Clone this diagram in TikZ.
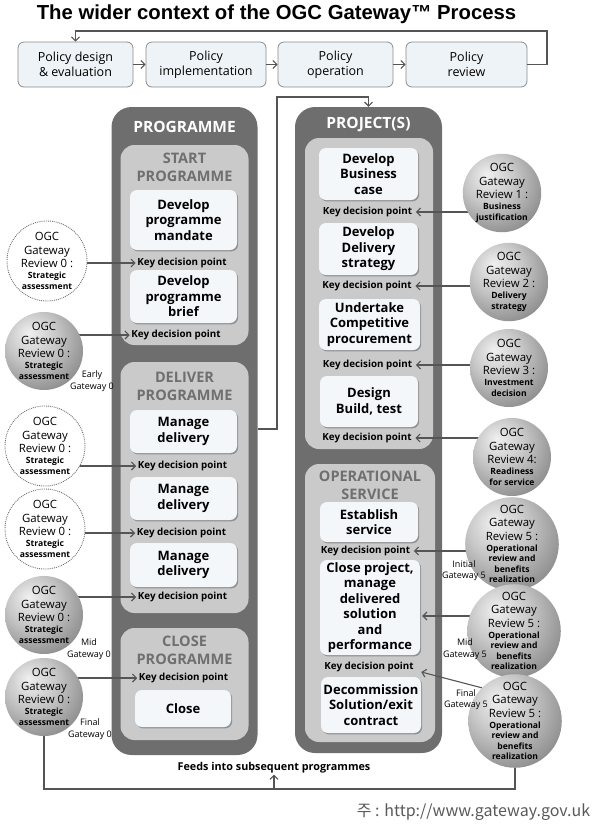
\documentclass[tikz,border=0pt]{standalone}
\usepackage{fontspec}
\setmainfont{Open Sans}
\newfontfamily\titlefont{Liberation Sans}
\newfontfamily\krfont{Noto Sans CJK KR}
\usetikzlibrary{arrows.meta,arrows}
\usetikzlibrary{positioning}
\usetikzlibrary{shadows}

\definecolor{darkcol}{HTML}{6E6E6E}
\definecolor{lightcol}{HTML}{CACACA}
\definecolor{boxfill}{HTML}{F4F7F9}
\definecolor{polfill}{HTML}{EEF3F7}
\definecolor{linecol}{HTML}{555555}
\definecolor{headcol}{HTML}{6F6F6F}

\pgfdeclareradialshading{sphere}{\pgfpoint{-10bp}{12bp}}{color(0bp)=(black!6); color(16bp)=(black!22); color(34bp)=(black!45); color(50bp)=(black!62); color(70bp)=(black!66)}

\newcommand{\polfont}{\fontsize{12.5}{14.5}\selectfont}
\newcommand{\taskfont}{\fontsize{13}{15.5}\selectfont\bfseries}
\newcommand{\kdpfont}{\fontsize{9.8}{12}\selectfont\bfseries}
\newcommand{\ballfont}{\fontsize{11.4}{13.5}\selectfont}
\newcommand{\smalltxt}[1]{{\fontsize{8.6}{10}\selectfont\bfseries #1}}
\newcommand{\headfont}{\fontsize{15.5}{18}\selectfont\bfseries}
\newcommand{\phasefont}{\fontsize{14.5}{18}\selectfont\bfseries}
\newcommand{\gwfont}{\fontsize{9}{11.5}\selectfont}

\begin{document}
\begin{tikzpicture}[x=1pt,y=-1pt,
    >={Straight Barb[length=4pt,width=8pt]},
    arr/.style={->,draw=linecol,line width=1.1pt},
    line/.style={draw=linecol,line width=1.1pt},
    pol/.style={draw=black!45,fill=polfill,rounded corners=6pt,minimum height=45pt,
        inner sep=0pt,align=center,font=\polfont,line width=.8pt},
    col/.style={fill=darkcol,rounded corners=20pt,minimum width=146pt,inner sep=0pt},
    phase/.style={fill=lightcol,rounded corners=14pt,minimum width=128pt,inner sep=0pt},
    task/.style={fill=boxfill,rounded corners=7pt,minimum width=107pt,inner sep=0pt,
        align=center,font=\taskfont,
        drop shadow={shadow xshift=1.2pt,shadow yshift=-1.4pt,opacity=.45,fill=black!70}},
    kdp/.style={font=\kdpfont,inner sep=1.5pt},
    head/.style={font=\headfont,text=white},
    phasetitle/.style={font=\phasefont,text=headcol,align=center},
    ball/.style={circle,minimum size=78pt,inner sep=0pt,shading=sphere,align=center,font=\ballfont},
    dotball/.style={circle,minimum size=80pt,inner sep=0pt,fill=white,draw=black!55,
        densely dotted,line width=.9pt,align=center,font=\ballfont},
    gw/.style={font=\gwfont,align=center,inner sep=0pt}]

\useasboundingbox (0,0) rectangle (600,828);

% title
\node[font=\titlefont\fontsize{20.3}{22}\selectfont\bfseries] (T) at (276.5,14) {The wider context of the OGC Gateway™ Process};

% policy cycle
\node[pol,minimum width=115pt] (P1) at (75.5,64.5) {Policy design\\\& evaluation};
\node[pol,minimum width=120pt] (P2) at (206,64.5) {Policy\\implementation};
\node[pol,minimum width=115pt] (P3) at (335.5,64.5) {Policy\\operation};
\node[pol,minimum width=121pt] (P4) at (466.5,64.5) {Policy\\review};

\begin{scope}[arr]
    \path [->] (P1) edge (P2);
    \path [->] (P2) edge (P3);
    \path [->] (P3) edge (P4);
\end{scope}
\coordinate (TR) at (547,31);
\draw[arr] (P4.east) -| (TR) -| (P1.north);

% the two columns
\node[col,minimum height=648pt] (PG) at (184.5,431) {};
\node[col,minimum width=147pt,minimum height=646pt] (PJ) at (368.5,430) {};
\node[head] (PGh) at (184.5,127) {PROGRAMME};
\node[head] (PJh) at (368.5,125) {PROJECT(S)};

\coordinate (PP) at (277,429);
\coordinate (PQ) at (277,97);
\draw[arr] (PG.east |- PP) -- (PP) -- (PQ) -| (PJ.north);

% phases
\node[phase,minimum height=200pt] (S) at (184.5,245) {};
\node[phase,minimum height=251pt] (D) at (184.5,487.5) {};
\node[phase,minimum height=112pt] (C) at (184.5,684) {};
\node[phase,minimum height=311pt] (PR) at (369,293.5) {};
\node[phase,minimum width=130pt,minimum height=278pt] (OS) at (370,603) {};

\node[phasetitle] (St) at (184.5,167) {START\\PROGRAMME};
\node[phasetitle] (Dt) at (184.5,386) {DELIVER\\PROGRAMME};
\node[phasetitle] (Ct) at (184.5,650.5) {CLOSE\\PROGRAMME};
\node[phasetitle] (OSt) at (370,485.5) {OPERATIONAL\\SERVICE};

% tasks
\node[task,minimum height=60pt] (T1) at (183.5,220) {Develop\\programme\\mandate};
\node[task,minimum height=53pt] (T2) at (183.5,296.5) {Develop\\programme\\brief};
\node[task,minimum height=43pt] (T3) at (183.5,431.5) {Manage\\delivery};
\node[task,minimum height=43pt] (T4) at (183.5,498.5) {Manage\\delivery};
\node[task,minimum height=44pt] (T5) at (183.5,565) {Manage\\delivery};
\node[task,minimum width=96pt,minimum height=37pt] (T6) at (183,708.5) {Close};

\node[task,minimum width=99pt,minimum height=52pt] (U1) at (368.5,174) {Develop\\Business\\case};
\node[task,minimum width=99pt,minimum height=52pt] (U2) at (368.5,249) {Develop\\Delivery\\strategy};
\node[task,minimum width=101pt,minimum height=51pt] (U3) at (369.5,324.5) {Undertake\\Competitive\\procurement};
\node[task,minimum width=98pt,minimum height=51pt] (U4) at (369,401.5) {Design\\Build, test};
\node[task,minimum width=98pt,minimum height=40pt] (U5) at (369,522) {Establish\\service};
\node[task,minimum width=100pt,minimum height=95pt] (U6) at (370,607.5) {Close project,\\manage\\delivered\\solution\\and\\performance};
\node[task,minimum width=100pt,minimum height=56pt] (U7) at (371,705) {Decommission\\Solution/exit\\contract};

% key decision points
\node[kdp] (K1) at (182,263) {Key decision point};
\node[kdp] (K2) at (176,335) {Key decision point};
\node[kdp] (K3) at (182.5,466) {Key decision point};
\node[kdp] (K4) at (181.5,533) {Key decision point};
\node[kdp] (K5) at (182.5,597) {Key decision point};
\node[kdp] (K6) at (183.5,678) {Key decision point};

\node[kdp] (J1) at (367.5,212) {Key decision point};
\node[kdp] (J2) at (367,286) {Key decision point};
\node[kdp] (J3) at (367.5,365) {Key decision point};
\node[kdp] (J4) at (367,438) {Key decision point};
\node[kdp] (J5) at (365.5,551) {Key decision point};
\node[kdp] (J6) at (369,667) {Key decision point};

% gateway reviews
\coordinate (L1c) at (47,261);
\coordinate (L2c) at (44,351);
\coordinate (L3c) at (45,446);
\coordinate (L4c) at (45,529);
\coordinate (L5c) at (44,615);
\coordinate (L6c) at (44,697);
\coordinate (R1c) at (502,193);
\coordinate (R2c) at (509,282);
\coordinate (R3c) at (509,368);
\coordinate (R4c) at (512,457);
\coordinate (R5c) at (512,544);
\coordinate (R6c) at (514,631);
\coordinate (R7c) at (515,721);
\coordinate (U6in) at ([yshift=-8.5pt]U6.east);

\draw[arr] (L1c |- K1) -- (K1.west);
\draw[arr] (L2c |- K2) -- (K2.west);
\draw[arr] (L3c |- K3) -- (K3.west);
\draw[arr] (L4c |- K4) -- (K4.west);
\draw[arr] (L5c |- K5) -- (K5.west);
\draw[arr] (L6c |- K6) -- (K6.west);
\draw[arr,shorten >=2pt] (R1c |- J1) -- (J1.east);
\draw[arr,shorten >=2pt] (R2c |- J2) -- (J2.east);
\draw[arr,shorten >=2pt] (R3c |- J3) -- (J3.east);
\draw[arr,shorten >=2pt] (R4c |- J4) -- (J4.east);
\draw[arr,shorten >=2pt] (R5c |- J5) -- (J5.east);
\draw[arr,shorten >=2pt] (R6c |- U6in) -- (U6in);

\node[dotball] (L1) at (L1c) {OGC\\Gateway\\Review 0 :\\[-2.5pt]\smalltxt{Strategic}\\[-3pt]\smalltxt{assessment}};
\node[ball] (L2) at (L2c) {OGC\\Gateway\\Review 0 :\\[-2.5pt]\smalltxt{Strategic}\\[-3pt]\smalltxt{assessment}};
\node[dotball] (L3) at (L3c) {OGC\\Gateway\\Review 0 :\\[-2.5pt]\smalltxt{Strategic}\\[-3pt]\smalltxt{assessment}};
\node[dotball] (L4) at (L4c) {OGC\\Gateway\\Review 0 :\\[-2.5pt]\smalltxt{Strategic}\\[-3pt]\smalltxt{assessment}};
\node[ball] (L5) at (L5c) {OGC\\Gateway\\Review 0 :\\[-2.5pt]\smalltxt{Strategic}\\[-3pt]\smalltxt{assessment}};
\node[ball] (L6) at (L6c) {OGC\\Gateway\\Review 0 :\\[-2.5pt]\smalltxt{Strategic}\\[-3pt]\smalltxt{assessment}};

\node[ball] (R1) at (R1c) {OGC\\Gateway\\Review 1 :\\[-2.5pt]\smalltxt{Business}\\[-3pt]\smalltxt{justification}};
\node[ball] (R2) at (R2c) {OGC\\Gateway\\Review 2 :\\[-2.5pt]\smalltxt{Delivery}\\[-3pt]\smalltxt{strategy}};
\node[ball] (R3) at (R3c) {OGC\\Gateway\\Review 3 :\\[-2.5pt]\smalltxt{Investment}\\[-3pt]\smalltxt{decision}};
\node[ball] (R4) at (R4c) {OGC\\Gateway\\Review 4:\\[-2.5pt]\smalltxt{Readiness}\\[-3pt]\smalltxt{for service}};
\node[ball] (R5) at (R5c) {OGC\\Gateway\\Review 5 :\\[-2.5pt]\smalltxt{Operational}\\[-3pt]\smalltxt{review and}\\[-3pt]\smalltxt{benefits}\\[-3pt]\smalltxt{realization}};
\node[ball] (R6) at (R6c) {OGC\\Gateway\\Review 5 :\\[-2.5pt]\smalltxt{Operational}\\[-3pt]\smalltxt{review and}\\[-3pt]\smalltxt{benefits}\\[-3pt]\smalltxt{realization}};
\node[ball] (R7) at (R7c) {OGC\\Gateway\\Review 5 :\\[-2.5pt]\smalltxt{Operational}\\[-3pt]\smalltxt{review and}\\[-3pt]\smalltxt{benefits}\\[-3pt]\smalltxt{realization}};

\draw[arr] (R7.135) -- ([shift={(6pt,-5pt)}]J6.east);

\node[gw] (E0) at (92,381) {Early\\Gateway 0};
\node[gw] (M0) at (89,649) {Mid\\Gateway 0};
\node[gw] (F0) at (90,729) {Final\\Gateway 0};
\node[gw] (I5) at (464,570.5) {Initial\\Gateway 5};
\node[gw] (M5) at (465,649) {Mid\\Gateway 5};
\node[gw] (F5) at (466,699.5) {Final\\Gateway 5};

% feedback to later programmes
\coordinate (FL) at (44,789);
\coordinate (FR) at (515,789);
\draw[line] (L6) -- (FL) -- (FR) -- (R7);
\node[font=\fontsize{10.8}{12}\selectfont\bfseries,inner sep=1pt] (FD) at (274,768) {Feeds into subsequent programmes};
\draw[arr] (FD.south |- FL) -- (FD.south);

\node[font=\krfont\fontsize{16}{18}\selectfont,text=black!65] (FN) at (473.5,812) {주 : http://www.gateway.gov.uk};

\end{tikzpicture}
\end{document}
